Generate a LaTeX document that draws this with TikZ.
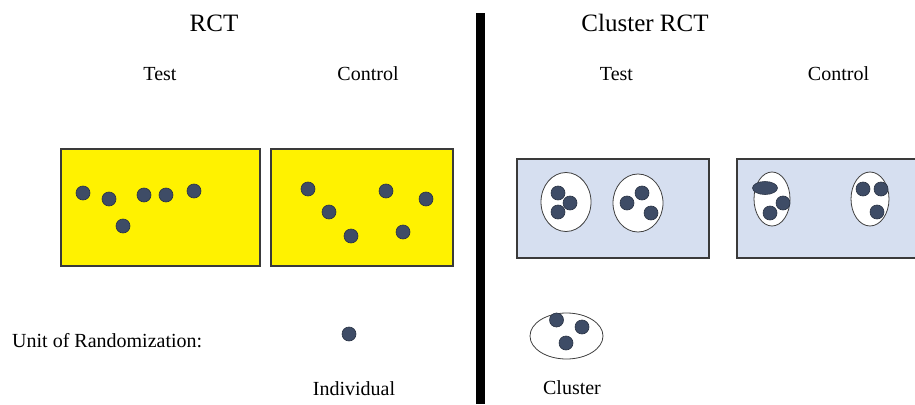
\documentclass[tikz,border=0pt]{standalone}
\usepackage{fontspec}
\usetikzlibrary{shapes.geometric}
\setmainfont{Liberation Serif}
\definecolor{dotfill}{HTML}{3E4C66}
\definecolor{dotline}{HTML}{2A3344}
\definecolor{boxblue}{HTML}{D6DFF0}
\definecolor{boxline}{HTML}{3A3A3A}
\begin{document}
\begin{tikzpicture}[x=1pt,y=-1pt,
  title/.style={font=\fontsize{25}{28}\selectfont,anchor=base,inner sep=0pt},
  lbl/.style={font=\fontsize{20}{23}\selectfont,anchor=base,inner sep=0pt},
  ybox/.style={draw=boxline,line width=1.3pt,fill=yellow},
  bbox/.style={draw=boxline,line width=1.3pt,fill=boxblue},
  clus/.style={draw=black!75,line width=0.8pt,fill=white},
  dot/.style={circle,draw=dotline,line width=0.6pt,fill=dotfill,minimum size=14pt,inner sep=0pt}
]
\useasboundingbox (0,0) rectangle (915,404);
% titles
\node[title] (t1) at (214,32) {RCT};
\node[title] (t2) at (645,32) {Cluster RCT};
\node[lbl] (h1) at (160,81) {Test};
\node[lbl] (h2) at (368,81) {Control};
\node[lbl] (h3) at (616.5,81) {Test};
\node[lbl] (h4) at (838.5,81) {Control};
% divider
\fill[black] (475.5,13) rectangle (484.5,404);
% RCT boxes
\draw[ybox] (61,149) rectangle (260,266);
\draw[ybox] (271,149) rectangle (453,266);
\foreach \p [count=\i] in {(83,193),(109,199),(123,226),(144,195),(166,195),(194,191)}
  \node[dot] (a\i) at \p {};
\foreach \p [count=\i] in {(308,189),(329,212),(351,236),(386,191),(426,199),(403,232)}
  \node[dot] (b\i) at \p {};
% Cluster boxes
\draw[bbox] (517,159) rectangle (709,258);
\draw[bbox] (737,159) rectangle (925,258);
\draw[clus] (566,202) ellipse (25 and 29.5);
\draw[clus] (638,203) ellipse (25 and 29);
\draw[clus] (772,199) ellipse (18 and 27);
\draw[clus] (870,199) ellipse (19 and 27);
\foreach \p [count=\i] in {(558,193),(570,203),(558,212),(642,193),(627,203),(651,213),(783,203),(770,213),(863,189),(881,189),(877,212)}
  \node[dot] (c\i) at \p {};
\node[ellipse,draw=dotline,line width=0.6pt,fill=dotfill,minimum width=25pt,minimum height=13pt,inner sep=0pt] (c0) at (765,188) {};
% bottom
\node[lbl,anchor=base west] (u) at (12,347) {Unit of Randomization:};
\node[dot] (ind) at (349,334) {};
\node[lbl] (il) at (354,395) {Individual};
\draw[clus] (566.5,336) ellipse (36.5 and 23);
\node[dot] (d1) at (556.5,320) {};
\node[dot] (d2) at (582,327) {};
\node[dot] (d3) at (566,343) {};
\node[lbl] (cl) at (572,394) {Cluster};
\end{tikzpicture}
\end{document}
